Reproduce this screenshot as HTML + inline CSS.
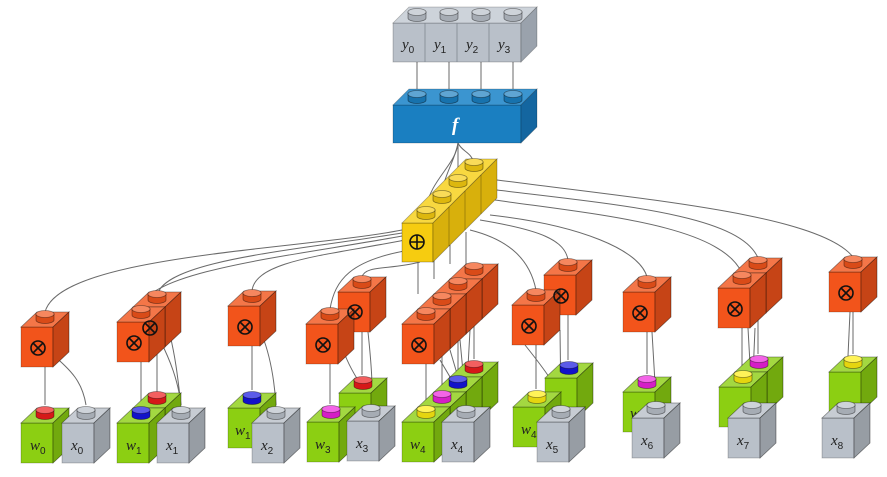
<!DOCTYPE html>
<html><head><meta charset="utf-8"><style>
html,body{margin:0;padding:0;background:#fff}
svg{display:block}
.l{fill:none;stroke:#6a6a6a;stroke-width:1}
.t{font-family:"Liberation Serif",serif;font-style:italic;font-size:15px;fill:#222}
.s{font-size:10px;font-style:normal;font-family:"Liberation Sans",sans-serif}
.o{font-family:"DejaVu Sans",sans-serif;font-size:17px;fill:#111}
</style></head><body>
<svg width="887" height="477" viewBox="0 0 887 477" xmlns="http://www.w3.org/2000/svg">
<defs>
<g id="cube" stroke="#00000040" stroke-width="0.8">
<rect x="0" y="0" width="32" height="40" fill="currentColor"/>
<polygon points="0,0 16,-15 48,-15 32,0" fill="currentColor"/>
<polygon points="0,0 16,-15 48,-15 32,0" fill="#fff" fill-opacity="0.2"/>
<polygon points="32,0 48,-15 48,25 32,40" fill="currentColor"/>
<polygon points="32,0 48,-15 48,25 32,40" fill="#000" fill-opacity="0.18"/>
</g>
<g id="stud" stroke="#00000040" stroke-width="0.8">
<path d="M-9,0 L-9,-6 L9,-6 L9,0 A9,3.5 0 0 1 -9,0 Z" fill="currentColor"/>
<path d="M-9,0 L-9,-6 L9,-6 L9,0 A9,3.5 0 0 1 -9,0 Z" fill="#000" fill-opacity="0.1"/>
<ellipse cx="0" cy="-6" rx="9" ry="3.5" fill="currentColor"/>
<ellipse cx="0" cy="-6" rx="9" ry="3.5" fill="#fff" fill-opacity="0.3"/>
</g>
<g id="ot"><circle cx="0" cy="0" r="7" fill="none" stroke="#111" stroke-width="1.6"/><path d="M-5,-5 L5,5 M5,-5 L-5,5" stroke="#111" stroke-width="1.6"/></g>
</defs>

<!-- lines y -> f -->
<g class="l">
<path d="M417,62 V95 M449,62 V95 M481,62 V95 M513,62 V95"/>
<!-- f -> yellow studs -->
<path d="M458,143 C456,165 430,180 426,209"/>
<path d="M458,143 C455,160 444,175 442,194"/>
<path d="M458,143 C458,160 458,170 458,179"/>
<path d="M458,143 C462,152 472,152 474,164"/>
<!-- yellow -> orange stud lines -->
<path d="M402,230 C300,250 60,255 45,312"/>
<path d="M402,233 C300,250 160,260 157,297"/>
<path d="M402,236 C300,255 150,270 141,307"/>
<path d="M405,240 C330,255 255,260 252,291"/>
<path d="M410,250 C350,260 335,280 330,309"/>
<path d="M420,262 C390,270 365,265 362,277"/>
<path d="M418,262 V294"/>
<path d="M434,258 V279"/>
<path d="M450,245 V264"/>
<path d="M466,232 V264"/>
<path d="M470,230 C510,240 530,260 536,290"/>
<path d="M480,220 C540,230 565,240 568,260"/>
<path d="M490,215 C580,225 640,250 647,277"/>
<path d="M495,200 C600,215 720,225 742,273"/>
<path d="M497,190 C620,205 740,215 758,258"/>
<path d="M497,180 C650,200 820,215 853,257"/>
<!-- orange -> bottom -->
<path d="M45,367 V405 M51,353 C70,370 82,380 86,405"/>
<path d="M141,362 V405 M157,347 V392 M160,340 C170,360 178,380 181,405 M170,335 C176,360 178,380 181,405"/>
<path d="M252,346 V390 M262,335 C272,360 275,390 276,405"/>
<path d="M330,364 V404 M362,332 V375 M345,355 C355,380 370,395 371,403 M368,332 C372,370 373,395 371,403"/>
<path d="M426,363 V404 M442,348 V389 M458,333 V374 M474,318 V359 M440,360 L466,404 M450,350 L466,404 M460,340 L466,404 M470,330 L466,404"/>
<path d="M536,345 V389 M568,315 V360 M525,345 C545,370 560,390 561,404 M560,330 L561,404"/>
<path d="M647,332 V374 M652,332 L656,400"/>
<path d="M742,328 V369 M758,313 V354 M748,328 L752,400 M755,328 L752,400"/>
<path d="M853,312 V354 M850,312 L846,400"/>
</g>

<!-- y row -->
<g stroke="#00000040" stroke-width="0.8">
<rect x="393" y="23" width="128" height="39" fill="#b9c0c9"/>
<polygon points="393,23 409,7 537,7 521,23" fill="#cdd3da"/>
<polygon points="521,23 537,7 537,46 521,62" fill="#9aa2ac"/>
<path d="M425,23 V62 M457,23 V62 M489,23 V62" stroke="#7f8791"/>
</g>
<g color="#b9c0c9"><use href="#stud" x="417" y="18"/><use href="#stud" x="449" y="18"/><use href="#stud" x="481" y="18"/><use href="#stud" x="513" y="18"/></g>
<text class="t" x="402" y="49">y<tspan class="s" dy="4">0</tspan></text>
<text class="t" x="434" y="49">y<tspan class="s" dy="4">1</tspan></text>
<text class="t" x="466" y="49">y<tspan class="s" dy="4">2</tspan></text>
<text class="t" x="498" y="49">y<tspan class="s" dy="4">3</tspan></text>

<!-- f -->
<g stroke="#00000040" stroke-width="0.8">
<rect x="393" y="105" width="128" height="38" fill="#1a7fc1"/>
<polygon points="393,105 409,89 537,89 521,105" fill="#3b95d0"/>
<polygon points="521,105 537,89 537,127 521,143" fill="#1466a0"/>
</g>
<g color="#1a7fc1"><use href="#stud" x="417" y="100"/><use href="#stud" x="449" y="100"/><use href="#stud" x="481" y="100"/><use href="#stud" x="513" y="100"/></g>
<text x="452" y="131" font-family="Liberation Serif,serif" font-style="italic" font-weight="bold" font-size="19" fill="#fff">f</text>

<!-- yellow bar -->
<g stroke="#00000050" stroke-width="0.8">
<rect x="402" y="223" width="31" height="39" fill="#f6cc10"/>
<polygon points="402,223 466,159 497,159 433,223" fill="#f8d840"/>
<polygon points="433,223 497,159 497,198 433,262" fill="#d8b00c"/>
<path d="M449,207 V246 M465,191 V230 M481,175 V214"/>
</g>
<g color="#f6cc10"><use href="#stud" x="474" y="168"/><use href="#stud" x="458" y="184"/><use href="#stud" x="442" y="200"/><use href="#stud" x="426" y="216"/></g>
<g transform="translate(417,242)"><circle r="7" fill="none" stroke="#111" stroke-width="1.6"/><path d="M-7,0 H7 M0,-7 V7" stroke="#111" stroke-width="1.6"/></g>

<!-- orange cubes -->
<g color="#f2541b">
<use href="#cube" x="21" y="327"/><use href="#stud" x="45" y="320"/>
<use href="#cube" x="133" y="307"/><use href="#stud" x="157" y="300"/>
<use href="#cube" x="117" y="322"/><use href="#stud" x="141" y="315"/>
<use href="#cube" x="228" y="306"/><use href="#stud" x="252" y="299"/>
<use href="#cube" x="338" y="292"/><use href="#stud" x="362" y="285"/>
<use href="#cube" x="306" y="324"/><use href="#stud" x="330" y="317"/>
<use href="#cube" x="450" y="279"/><use href="#stud" x="474" y="272"/>
<use href="#cube" x="434" y="294"/><use href="#stud" x="458" y="287"/>
<use href="#cube" x="418" y="309"/><use href="#stud" x="442" y="302"/>
<use href="#cube" x="402" y="324"/><use href="#stud" x="426" y="317"/>
<use href="#cube" x="544" y="275"/><use href="#stud" x="568" y="268"/>
<use href="#cube" x="512" y="305"/><use href="#stud" x="536" y="298"/>
<use href="#cube" x="623" y="292"/><use href="#stud" x="647" y="285"/>
<use href="#cube" x="734" y="273"/><use href="#stud" x="758" y="266"/>
<use href="#cube" x="718" y="288"/><use href="#stud" x="742" y="281"/>
<use href="#cube" x="829" y="272"/><use href="#stud" x="853" y="265"/>
</g>
<use href="#ot" x="38" y="348"/><use href="#ot" x="134" y="343"/><use href="#ot" x="150" y="328"/>
<use href="#ot" x="245" y="327"/><use href="#ot" x="355" y="312"/><use href="#ot" x="323" y="345"/>
<use href="#ot" x="419" y="345"/><use href="#ot" x="561" y="296"/><use href="#ot" x="529" y="326"/>
<use href="#ot" x="640" y="313"/><use href="#ot" x="735" y="309"/><use href="#ot" x="846" y="293"/>

<!-- back greens -->
<g color="#8ccf12">
<use href="#cube" x="133" y="408"/>
<use href="#cube" x="339" y="393"/>
<use href="#cube" x="450" y="377"/><use href="#cube" x="434" y="392"/><use href="#cube" x="418" y="407"/>
<use href="#cube" x="545" y="378"/>
<use href="#cube" x="735" y="372"/>
</g>
<use href="#stud" x="157" y="401" color="#ee1c1c"/>
<use href="#stud" x="363" y="386" color="#ee1c1c"/>
<use href="#stud" x="474" y="370" color="#ee1c1c"/>
<use href="#stud" x="458" y="385" color="#1515e0"/>
<use href="#stud" x="442" y="400" color="#ee22dd"/>
<use href="#stud" x="569" y="371" color="#1515e0"/>
<use href="#stud" x="759" y="365" color="#ee22dd"/>
<text class="t" x="555" y="407">1</text>

<!-- front greens -->
<g color="#8ccf12">
<use href="#cube" x="21" y="423"/><use href="#cube" x="117" y="423"/><use href="#cube" x="228" y="408"/>
<use href="#cube" x="307" y="422"/><use href="#cube" x="402" y="422"/><use href="#cube" x="513" y="407"/>
<use href="#cube" x="623" y="392"/><use href="#cube" x="719" y="387"/><use href="#cube" x="829" y="372"/>
</g>
<use href="#stud" x="45" y="416" color="#ee1c1c"/>
<use href="#stud" x="141" y="416" color="#1515e0"/>
<use href="#stud" x="252" y="401" color="#1515e0"/>
<use href="#stud" x="331" y="415" color="#ee22dd"/>
<use href="#stud" x="426" y="415" color="#ffee11"/>
<use href="#stud" x="537" y="400" color="#ffee11"/>
<use href="#stud" x="647" y="385" color="#ee22dd"/>
<use href="#stud" x="743" y="380" color="#ffee11"/>
<use href="#stud" x="853" y="365" color="#ffee11"/>
<text class="t" x="30" y="450">w<tspan class="s" dy="4">0</tspan></text>
<text class="t" x="126" y="450">w<tspan class="s" dy="4">1</tspan></text>
<text class="t" x="235" y="435">w<tspan class="s" dy="4">1</tspan></text>
<text class="t" x="315" y="449">w<tspan class="s" dy="4">3</tspan></text>
<text class="t" x="410" y="449">w<tspan class="s" dy="4">4</tspan></text>
<text class="t" x="521" y="434">w<tspan class="s" dy="4">4</tspan></text>
<text class="t" x="630" y="418">w</text>

<!-- grays -->
<g color="#b9c0c9">
<use href="#cube" x="62" y="423"/><use href="#cube" x="157" y="423"/><use href="#cube" x="252" y="423"/>
<use href="#cube" x="347" y="421"/><use href="#cube" x="442" y="422"/><use href="#cube" x="537" y="422"/>
<use href="#cube" x="632" y="418"/><use href="#cube" x="728" y="418"/><use href="#cube" x="822" y="418"/>
<use href="#stud" x="86" y="416"/><use href="#stud" x="181" y="416"/><use href="#stud" x="276" y="416"/>
<use href="#stud" x="371" y="414"/><use href="#stud" x="466" y="415"/><use href="#stud" x="561" y="415"/>
<use href="#stud" x="656" y="411"/><use href="#stud" x="752" y="411"/><use href="#stud" x="846" y="411"/>
</g>
<text class="t" x="71" y="450">x<tspan class="s" dy="4">0</tspan></text>
<text class="t" x="166" y="450">x<tspan class="s" dy="4">1</tspan></text>
<text class="t" x="261" y="450">x<tspan class="s" dy="4">2</tspan></text>
<text class="t" x="356" y="448">x<tspan class="s" dy="4">3</tspan></text>
<text class="t" x="451" y="449">x<tspan class="s" dy="4">4</tspan></text>
<text class="t" x="546" y="449">x<tspan class="s" dy="4">5</tspan></text>
<text class="t" x="641" y="445">x<tspan class="s" dy="4">6</tspan></text>
<text class="t" x="737" y="445">x<tspan class="s" dy="4">7</tspan></text>
<text class="t" x="831" y="445">x<tspan class="s" dy="4">8</tspan></text>
</svg>
</body></html>
